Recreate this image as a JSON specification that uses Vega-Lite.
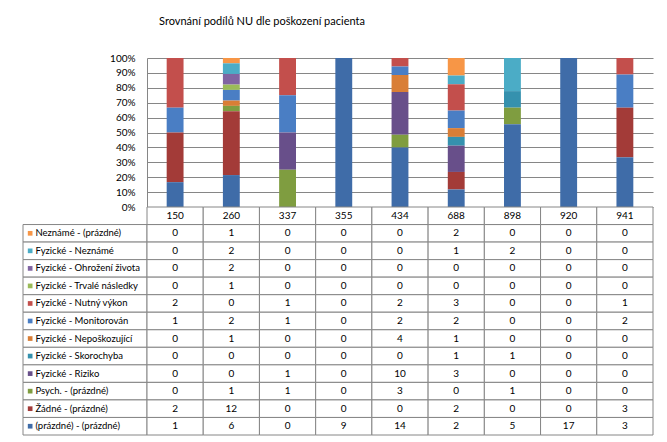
{
  "$schema": "https://vega.github.io/schema/vega-lite/v6.json",
  "background": "white",
  "padding": {"left": 22, "top": 16, "right": 15, "bottom": 5},
  "title": {"text": "Srovnání podílů NU  dle poškození pacienta", "font": "Lato", "fontSize": 11, "fontWeight": "normal", "color": "#000000", "anchor": "middle", "dx": -76, "offset": 26},
  "config": {"view": {"stroke": null}, "font": "Lato"},
  "datasets": {
    "nu": [
      {"cat": "150", "series": "Neznámé - (prázdné)", "value": 0},
      {"cat": "260", "series": "Neznámé - (prázdné)", "value": 1},
      {"cat": "337", "series": "Neznámé - (prázdné)", "value": 0},
      {"cat": "355", "series": "Neznámé - (prázdné)", "value": 0},
      {"cat": "434", "series": "Neznámé - (prázdné)", "value": 0},
      {"cat": "688", "series": "Neznámé - (prázdné)", "value": 2},
      {"cat": "898", "series": "Neznámé - (prázdné)", "value": 0},
      {"cat": "920", "series": "Neznámé - (prázdné)", "value": 0},
      {"cat": "941", "series": "Neznámé - (prázdné)", "value": 0},
      {"cat": "150", "series": "Fyzické - Neznámé", "value": 0},
      {"cat": "260", "series": "Fyzické - Neznámé", "value": 2},
      {"cat": "337", "series": "Fyzické - Neznámé", "value": 0},
      {"cat": "355", "series": "Fyzické - Neznámé", "value": 0},
      {"cat": "434", "series": "Fyzické - Neznámé", "value": 0},
      {"cat": "688", "series": "Fyzické - Neznámé", "value": 1},
      {"cat": "898", "series": "Fyzické - Neznámé", "value": 2},
      {"cat": "920", "series": "Fyzické - Neznámé", "value": 0},
      {"cat": "941", "series": "Fyzické - Neznámé", "value": 0},
      {"cat": "150", "series": "Fyzické - Ohrožení života", "value": 0},
      {"cat": "260", "series": "Fyzické - Ohrožení života", "value": 2},
      {"cat": "337", "series": "Fyzické - Ohrožení života", "value": 0},
      {"cat": "355", "series": "Fyzické - Ohrožení života", "value": 0},
      {"cat": "434", "series": "Fyzické - Ohrožení života", "value": 0},
      {"cat": "688", "series": "Fyzické - Ohrožení života", "value": 0},
      {"cat": "898", "series": "Fyzické - Ohrožení života", "value": 0},
      {"cat": "920", "series": "Fyzické - Ohrožení života", "value": 0},
      {"cat": "941", "series": "Fyzické - Ohrožení života", "value": 0},
      {"cat": "150", "series": "Fyzické - Trvalé následky", "value": 0},
      {"cat": "260", "series": "Fyzické - Trvalé následky", "value": 1},
      {"cat": "337", "series": "Fyzické - Trvalé následky", "value": 0},
      {"cat": "355", "series": "Fyzické - Trvalé následky", "value": 0},
      {"cat": "434", "series": "Fyzické - Trvalé následky", "value": 0},
      {"cat": "688", "series": "Fyzické - Trvalé následky", "value": 0},
      {"cat": "898", "series": "Fyzické - Trvalé následky", "value": 0},
      {"cat": "920", "series": "Fyzické - Trvalé následky", "value": 0},
      {"cat": "941", "series": "Fyzické - Trvalé následky", "value": 0},
      {"cat": "150", "series": "Fyzické - Nutný výkon", "value": 2},
      {"cat": "260", "series": "Fyzické - Nutný výkon", "value": 0},
      {"cat": "337", "series": "Fyzické - Nutný výkon", "value": 1},
      {"cat": "355", "series": "Fyzické - Nutný výkon", "value": 0},
      {"cat": "434", "series": "Fyzické - Nutný výkon", "value": 2},
      {"cat": "688", "series": "Fyzické - Nutný výkon", "value": 3},
      {"cat": "898", "series": "Fyzické - Nutný výkon", "value": 0},
      {"cat": "920", "series": "Fyzické - Nutný výkon", "value": 0},
      {"cat": "941", "series": "Fyzické - Nutný výkon", "value": 1},
      {"cat": "150", "series": "Fyzické - Monitorován", "value": 1},
      {"cat": "260", "series": "Fyzické - Monitorován", "value": 2},
      {"cat": "337", "series": "Fyzické - Monitorován", "value": 1},
      {"cat": "355", "series": "Fyzické - Monitorován", "value": 0},
      {"cat": "434", "series": "Fyzické - Monitorován", "value": 2},
      {"cat": "688", "series": "Fyzické - Monitorován", "value": 2},
      {"cat": "898", "series": "Fyzické - Monitorován", "value": 0},
      {"cat": "920", "series": "Fyzické - Monitorován", "value": 0},
      {"cat": "941", "series": "Fyzické - Monitorován", "value": 2},
      {"cat": "150", "series": "Fyzické - Nepoškozující", "value": 0},
      {"cat": "260", "series": "Fyzické - Nepoškozující", "value": 1},
      {"cat": "337", "series": "Fyzické - Nepoškozující", "value": 0},
      {"cat": "355", "series": "Fyzické - Nepoškozující", "value": 0},
      {"cat": "434", "series": "Fyzické - Nepoškozující", "value": 4},
      {"cat": "688", "series": "Fyzické - Nepoškozující", "value": 1},
      {"cat": "898", "series": "Fyzické - Nepoškozující", "value": 0},
      {"cat": "920", "series": "Fyzické - Nepoškozující", "value": 0},
      {"cat": "941", "series": "Fyzické - Nepoškozující", "value": 0},
      {"cat": "150", "series": "Fyzické - Skorochyba", "value": 0},
      {"cat": "260", "series": "Fyzické - Skorochyba", "value": 0},
      {"cat": "337", "series": "Fyzické - Skorochyba", "value": 0},
      {"cat": "355", "series": "Fyzické - Skorochyba", "value": 0},
      {"cat": "434", "series": "Fyzické - Skorochyba", "value": 0},
      {"cat": "688", "series": "Fyzické - Skorochyba", "value": 1},
      {"cat": "898", "series": "Fyzické - Skorochyba", "value": 1},
      {"cat": "920", "series": "Fyzické - Skorochyba", "value": 0},
      {"cat": "941", "series": "Fyzické - Skorochyba", "value": 0},
      {"cat": "150", "series": "Fyzické - Riziko", "value": 0},
      {"cat": "260", "series": "Fyzické - Riziko", "value": 0},
      {"cat": "337", "series": "Fyzické - Riziko", "value": 1},
      {"cat": "355", "series": "Fyzické - Riziko", "value": 0},
      {"cat": "434", "series": "Fyzické - Riziko", "value": 10},
      {"cat": "688", "series": "Fyzické - Riziko", "value": 3},
      {"cat": "898", "series": "Fyzické - Riziko", "value": 0},
      {"cat": "920", "series": "Fyzické - Riziko", "value": 0},
      {"cat": "941", "series": "Fyzické - Riziko", "value": 0},
      {"cat": "150", "series": "Psych. - (prázdné)", "value": 0},
      {"cat": "260", "series": "Psych. - (prázdné)", "value": 1},
      {"cat": "337", "series": "Psych. - (prázdné)", "value": 1},
      {"cat": "355", "series": "Psych. - (prázdné)", "value": 0},
      {"cat": "434", "series": "Psych. - (prázdné)", "value": 3},
      {"cat": "688", "series": "Psych. - (prázdné)", "value": 0},
      {"cat": "898", "series": "Psych. - (prázdné)", "value": 1},
      {"cat": "920", "series": "Psych. - (prázdné)", "value": 0},
      {"cat": "941", "series": "Psych. - (prázdné)", "value": 0},
      {"cat": "150", "series": "Žádné - (prázdné)", "value": 2},
      {"cat": "260", "series": "Žádné - (prázdné)", "value": 12},
      {"cat": "337", "series": "Žádné - (prázdné)", "value": 0},
      {"cat": "355", "series": "Žádné - (prázdné)", "value": 0},
      {"cat": "434", "series": "Žádné - (prázdné)", "value": 0},
      {"cat": "688", "series": "Žádné - (prázdné)", "value": 2},
      {"cat": "898", "series": "Žádné - (prázdné)", "value": 0},
      {"cat": "920", "series": "Žádné - (prázdné)", "value": 0},
      {"cat": "941", "series": "Žádné - (prázdné)", "value": 3},
      {"cat": "150", "series": "(prázdné) - (prázdné)", "value": 1},
      {"cat": "260", "series": "(prázdné) - (prázdné)", "value": 6},
      {"cat": "337", "series": "(prázdné) - (prázdné)", "value": 0},
      {"cat": "355", "series": "(prázdné) - (prázdné)", "value": 9},
      {"cat": "434", "series": "(prázdné) - (prázdné)", "value": 14},
      {"cat": "688", "series": "(prázdné) - (prázdné)", "value": 2},
      {"cat": "898", "series": "(prázdné) - (prázdné)", "value": 5},
      {"cat": "920", "series": "(prázdné) - (prázdné)", "value": 17},
      {"cat": "941", "series": "(prázdné) - (prázdné)", "value": 3}
    ]
  },
  "columns": 2,
  "spacing": 0,
  "bounds": "flush",
  "concat": [
    {
      "width": 124,
      "height": 149,
      "data": {"values": []},
      "mark": "text",
      "encoding": {}
    },
    {
      "width": 506,
      "height": 149,
      "data": {"name": "nu"},
      "transform": [
        {"calculate": "indexof(['(prázdné) - (prázdné)', 'Žádné - (prázdné)', 'Psych. - (prázdné)', 'Fyzické - Riziko', 'Fyzické - Skorochyba', 'Fyzické - Nepoškozující', 'Fyzické - Monitorován', 'Fyzické - Nutný výkon', 'Fyzické - Trvalé následky', 'Fyzické - Ohrožení života', 'Fyzické - Neznámé', 'Neznámé - (prázdné)'], datum.series)", "as": "stackOrder"}
      ],
      "mark": {"type": "bar", "width": {"band": 0.3}},
      "encoding": {
        "x": {"field": "cat", "type": "nominal", "axis": null, "scale": {"domain": ["150", "260", "337", "355", "434", "688", "898", "920", "941"], "paddingInner": 0, "paddingOuter": 0}},
        "y": {"field": "value", "type": "quantitative", "stack": "normalize", "scale": {"domain": [0, 1], "nice": false},
          "axis": {"format": "%", "values": [0, 0.1, 0.2, 0.3, 0.4, 0.5, 0.6, 0.7, 0.8, 0.9, 1], "grid": true, "gridColor": "#868686", "gridOpacity": 1, "domainColor": "#868686", "ticks": false, "labelPadding": 12, "labelFontSize": 10, "labelColor": "#000000", "labelFont": "Lato", "title": null}},
        "order": {"field": "stackOrder", "type": "quantitative", "sort": "ascending"},
        "color": {"field": "series", "type": "nominal", "legend": null,
          "scale": {"domain": ["(prázdné) - (prázdné)", "Žádné - (prázdné)", "Psych. - (prázdné)", "Fyzické - Riziko", "Fyzické - Skorochyba", "Fyzické - Nepoškozující", "Fyzické - Monitorován", "Fyzické - Nutný výkon", "Fyzické - Trvalé následky", "Fyzické - Ohrožení života", "Fyzické - Neznámé", "Neznámé - (prázdné)"],
            "range": ["#3F6CA8", "#A33B38", "#7F9D40", "#684F8A", "#3591AE", "#D97E36", "#4A7EC4", "#C34F4C", "#9BBB59", "#8064A2", "#4BACC6", "#F79646"]}}
      }
    },
    {
      "width": 124,
      "height": 228,
      "data": {"name": "nu"},
      "transform": [{"aggregate": [{"op": "sum", "field": "value", "as": "tot"}], "groupby": ["series"]}],
      "encoding": {
        "y": {"field": "series", "type": "nominal", "axis": null,
          "scale": {"domain": ["hdr", "Neznámé - (prázdné)", "Fyzické - Neznámé", "Fyzické - Ohrožení života", "Fyzické - Trvalé následky", "Fyzické - Nutný výkon", "Fyzické - Monitorován", "Fyzické - Nepoškozující", "Fyzické - Skorochyba", "Fyzické - Riziko", "Psych. - (prázdné)", "Žádné - (prázdné)", "(prázdné) - (prázdné)"], "paddingInner": 0, "paddingOuter": 0}}
      },
      "layer": [
        {"mark": {"type": "rect", "fill": "white", "stroke": "#868686", "strokeWidth": 1}},
        {"mark": {"type": "point", "shape": "square", "filled": true, "size": 22, "opacity": 1},
          "encoding": {
            "x": {"datum": 7.5, "type": "quantitative", "scale": {"domain": [0, 124]}, "axis": null},
            "color": {"field": "series", "type": "nominal", "legend": null,
              "scale": {"domain": ["(prázdné) - (prázdné)", "Žádné - (prázdné)", "Psych. - (prázdné)", "Fyzické - Riziko", "Fyzické - Skorochyba", "Fyzické - Nepoškozující", "Fyzické - Monitorován", "Fyzické - Nutný výkon", "Fyzické - Trvalé následky", "Fyzické - Ohrožení života", "Fyzické - Neznámé", "Neznámé - (prázdné)"],
                "range": ["#3F6CA8", "#A33B38", "#7F9D40", "#684F8A", "#3591AE", "#D97E36", "#4A7EC4", "#C34F4C", "#9BBB59", "#8064A2", "#4BACC6", "#F79646"]}}
          }},
        {"mark": {"type": "text", "align": "left", "baseline": "middle", "fontSize": 9.5, "color": "#000000", "font": "Lato"},
          "encoding": {
            "x": {"datum": 13, "type": "quantitative"},
            "text": {"field": "series"}
          }}
      ]
    },
    {
      "width": 506,
      "height": 228,
      "data": {"name": "nu"},
      "encoding": {
        "x": {"field": "cat", "type": "nominal", "axis": null, "scale": {"domain": ["150", "260", "337", "355", "434", "688", "898", "920", "941"], "paddingInner": 0, "paddingOuter": 0}}
      },
      "layer": [
        {"mark": {"type": "rect", "fill": "white", "stroke": "#868686", "strokeWidth": 1},
          "encoding": {"y": {"field": "series", "type": "nominal", "axis": null,
            "scale": {"domain": ["hdr", "Neznámé - (prázdné)", "Fyzické - Neznámé", "Fyzické - Ohrožení života", "Fyzické - Trvalé následky", "Fyzické - Nutný výkon", "Fyzické - Monitorován", "Fyzické - Nepoškozující", "Fyzické - Skorochyba", "Fyzické - Riziko", "Psych. - (prázdné)", "Žádné - (prázdné)", "(prázdné) - (prázdné)"], "paddingInner": 0, "paddingOuter": 0}}}},
        {"mark": {"type": "text", "fontSize": 10, "color": "#000000", "font": "Lato", "baseline": "middle"},
          "encoding": {"y": {"field": "series", "type": "nominal"}, "text": {"field": "value"}}},
        {"transform": [{"aggregate": [{"op": "count", "as": "n"}], "groupby": ["cat"]}],
          "layer": [
            {"mark": {"type": "rect", "fill": "white", "stroke": "#868686", "strokeWidth": 1},
              "encoding": {"y": {"datum": "hdr", "type": "nominal"}}},
            {"mark": {"type": "text", "fontSize": 10, "color": "#000000", "font": "Lato", "baseline": "middle"},
              "encoding": {"y": {"datum": "hdr", "type": "nominal"}, "text": {"field": "cat"}}}
          ]}
      ]
    }
  ]
}
